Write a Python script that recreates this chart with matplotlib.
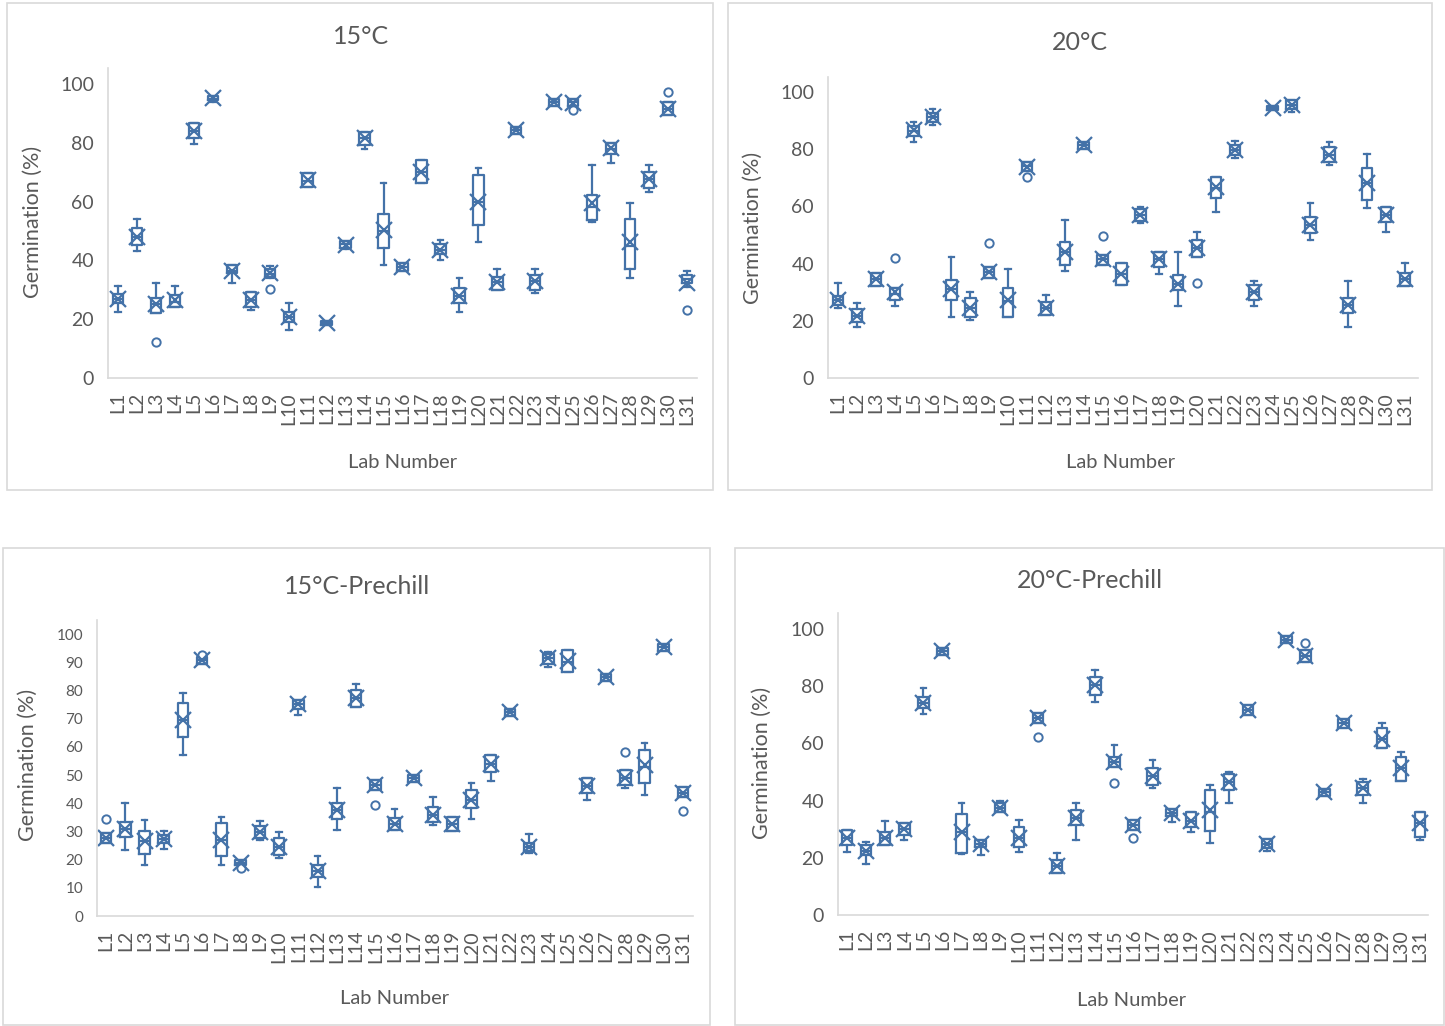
import matplotlib.pyplot as plt
from matplotlib.patches import Rectangle

plt.rcParams['font.family'] = ['Lato', 'DejaVu Sans']

W, H = 1445, 1026
BLUE = '#4472a8'
GREY = '#595959'

labs = ["L%d" % i for i in range(1, 32)]

# 15°C
t15_lo = [22.4, 43.2, 22.1, 24.1, 79.6, 94.0, 32.3, 23.1, 34.0, 16.3, 65.0, 18.0, 44.0, 78.0, 38.4, 36.5,
          66.3, 40.1, 22.4, 46.3, 29.9, 83.0, 29.0, 92.5, 92.5, 53.0, 73.0, 34.0, 63.3, 89.5, 31.0]
t15_q1 = [25.5, 45.2, 22.1, 24.1, 81.6, 94.5, 35.7, 24.1, 34.5, 19.0, 65.0, 18.0, 44.2, 79.3, 44.2, 36.5,
          66.3, 42.0, 25.5, 52.0, 29.9, 83.0, 30.0, 92.5, 92.5, 53.7, 76.0, 37.0, 64.6, 89.5, 32.3]
t15_med = [27.0, 48.0, 25.0, 26.0, 84.0, 95.0, 36.5, 26.5, 35.5, 20.7, 67.0, 18.7, 45.5, 81.5, 50.0, 37.8,
           70.0, 43.5, 28.0, 60.0, 32.5, 84.4, 33.0, 94.0, 94.0, 58.0, 78.0, 45.0, 67.5, 91.5, 33.5]
t15_q3 = [28.5, 51.0, 27.2, 28.2, 86.7, 96.0, 38.4, 29.2, 37.0, 22.4, 69.7, 19.5, 46.5, 83.7, 55.8, 39.0,
          74.1, 45.5, 30.6, 69.0, 34.4, 85.5, 35.0, 95.0, 95.0, 62.2, 80.0, 54.0, 70.0, 93.9, 35.0]
t15_hi = [31.3, 54.0, 32.3, 31.3, 86.7, 96.0, 38.4, 29.2, 38.0, 25.5, 69.7, 19.5, 46.5, 83.7, 66.3, 39.0,
          74.1, 47.0, 34.0, 71.4, 37.0, 85.5, 37.0, 95.0, 95.0, 72.4, 80.0, 59.5, 72.4, 93.9, 36.4]
t15_mean = [27.0, 48.0, 25.0, 26.5, 84.0, 95.2, 36.5, 26.5, 35.7, 20.7, 67.3, 18.7, 45.3, 81.5, 50.3, 37.8,
            70.0, 43.5, 28.0, 59.9, 32.5, 84.4, 33.0, 93.9, 93.5, 59.5, 78.2, 46.3, 67.5, 91.5, 32.3]
t15_out = {3: [12.2], 9: [30.3], 25: [91.2], 30: [97.3], 31: [23.1]}

# 20°C
t20_lo = [24.5, 17.8, 32.2, 25.2, 82.5, 88.5, 21.3, 20.3, 35.0, 21.3, 72.5, 22.0, 37.4, 80.0, 39.5, 32.5,
          54.2, 36.4, 25.2, 42.3, 58.0, 77.0, 25.2, 93.5, 93.0, 48.3, 74.5, 17.8, 59.4, 51.0, 32.2]
t20_q1 = [25.5, 19.6, 32.2, 27.3, 84.5, 89.5, 27.3, 21.3, 35.0, 21.3, 72.5, 22.0, 39.5, 80.0, 39.5, 32.5,
          55.0, 38.8, 30.8, 42.3, 63.0, 78.0, 27.3, 93.5, 94.0, 50.7, 75.5, 22.7, 62.2, 54.5, 32.2]
t20_med = [27.3, 21.8, 34.5, 29.5, 86.5, 91.3, 31.0, 24.5, 37.0, 27.0, 74.0, 24.5, 44.0, 81.5, 41.5, 36.5,
           57.0, 41.5, 33.0, 45.5, 66.5, 79.7, 30.0, 94.4, 95.5, 53.5, 78.0, 25.5, 68.0, 57.0, 34.5]
t20_q3 = [28.5, 24.1, 36.7, 31.5, 88.0, 92.5, 34.3, 28.0, 38.8, 31.5, 75.5, 26.6, 47.6, 82.5, 43.0, 40.2,
          59.0, 44.0, 36.0, 48.3, 70.3, 81.5, 32.5, 95.0, 97.0, 56.3, 80.8, 28.0, 73.4, 59.8, 36.7]
t20_hi = [33.2, 26.2, 36.7, 31.5, 89.5, 94.0, 42.3, 30.1, 38.8, 38.1, 75.5, 29.0, 55.2, 82.5, 43.0, 40.2,
          59.6, 44.0, 44.0, 51.0, 70.3, 83.0, 33.9, 95.0, 97.0, 61.2, 82.5, 34.0, 78.3, 59.8, 40.2]
t20_mean = [27.3, 21.8, 34.5, 30.0, 86.7, 91.3, 31.0, 24.5, 37.0, 27.3, 73.8, 24.5, 44.0, 81.5, 41.5, 36.5,
            57.0, 41.5, 33.0, 45.5, 66.8, 79.7, 30.0, 94.2, 95.5, 53.5, 78.0, 25.5, 68.2, 57.0, 34.5]
t20_out = {4: [42.0], 9: [47.2], 11: [70.3], 15: [49.7], 20: [33.2]}

# 15°C-Prechill
p15_lo = [25.9, 23.4, 18.1, 23.8, 57.0, 89.5, 18.1, 18.0, 27.0, 20.6, 71.3, 10.3, 30.5, 74.1, 44.7, 30.5,
          47.5, 32.3, 30.1, 34.4, 47.9, 71.0, 22.5, 88.3, 86.5, 41.1, 83.5, 45.5, 42.9, 94.0, 42.2]
p15_q1 = [25.9, 28.0, 22.0, 25.9, 63.5, 89.5, 21.3, 18.0, 27.7, 21.6, 73.5, 13.8, 34.4, 74.1, 44.7, 30.5,
          47.5, 33.3, 30.1, 38.3, 51.1, 71.0, 23.0, 89.5, 86.5, 43.6, 83.5, 46.5, 47.2, 94.0, 42.2]
p15_med = [27.5, 31.0, 26.5, 27.3, 69.5, 90.8, 27.0, 18.8, 29.8, 24.5, 75.2, 16.0, 37.5, 77.5, 46.5, 32.5,
           48.9, 36.0, 32.5, 41.0, 54.0, 72.3, 24.5, 91.5, 90.0, 46.0, 84.8, 49.0, 53.0, 95.4, 43.5]
p15_q3 = [29.4, 33.3, 30.1, 28.7, 75.5, 92.0, 33.0, 20.0, 31.9, 27.7, 76.5, 18.1, 40.0, 80.1, 48.2, 34.8,
          50.0, 38.7, 35.1, 44.7, 57.1, 73.5, 26.0, 93.0, 94.3, 48.9, 86.0, 51.8, 58.9, 96.5, 45.7]
p15_hi = [29.4, 40.0, 34.0, 30.1, 79.0, 92.0, 35.1, 20.0, 33.7, 29.7, 76.5, 21.3, 45.4, 82.3, 48.2, 38.0,
          50.0, 42.2, 35.1, 47.2, 57.1, 73.5, 29.1, 93.6, 94.3, 48.9, 86.0, 51.8, 61.3, 96.5, 45.7]
p15_mean = [27.5, 31.0, 26.5, 27.3, 69.5, 90.8, 27.0, 18.8, 29.8, 24.5, 75.2, 16.0, 37.5, 77.5, 46.5, 32.5,
            48.9, 36.0, 32.5, 41.0, 54.0, 72.3, 24.5, 91.5, 90.5, 46.0, 84.8, 49.0, 53.5, 95.4, 43.5]
p15_out = {1: [34.4], 6: [92.5], 8: [17.2], 15: [39.4], 28: [58.2], 31: [37.2]}

# 20°C-Prechill
p20_lo = [22.0, 17.8, 24.5, 26.2, 70.3, 91.0, 21.5, 21.0, 36.0, 22.0, 67.1, 14.7, 26.2, 74.5, 51.7, 29.7,
          44.4, 32.5, 29.0, 25.2, 39.2, 70.0, 22.5, 95.0, 88.5, 41.5, 65.5, 39.2, 58.4, 46.9, 26.2]
p20_q1 = [24.5, 21.0, 24.5, 28.0, 72.4, 91.0, 21.7, 23.8, 36.0, 23.8, 67.1, 14.7, 31.5, 76.9, 51.7, 29.7,
          45.5, 34.5, 30.8, 29.4, 43.7, 70.0, 23.5, 95.0, 88.5, 41.5, 65.5, 42.0, 58.4, 46.9, 27.3]
p20_med = [27.0, 22.5, 27.0, 30.0, 74.0, 92.3, 29.0, 25.0, 37.4, 27.0, 69.0, 17.0, 34.0, 80.5, 53.5, 31.5,
           48.5, 35.7, 33.0, 36.0, 46.5, 71.7, 24.8, 96.2, 90.5, 43.0, 67.1, 44.5, 61.5, 51.5, 32.0]
p20_q3 = [29.7, 24.5, 29.0, 32.2, 76.2, 93.5, 35.3, 26.2, 39.0, 30.8, 70.6, 19.2, 36.7, 83.2, 55.2, 33.2,
          51.4, 37.0, 36.0, 43.7, 49.3, 73.5, 26.5, 97.5, 92.7, 44.0, 68.5, 46.5, 65.4, 55.2, 36.0]
p20_hi = [29.7, 25.5, 32.9, 32.2, 79.4, 93.5, 39.2, 26.2, 40.0, 33.2, 70.6, 21.7, 39.2, 85.7, 59.4, 33.2,
          54.2, 37.0, 36.0, 45.5, 50.0, 73.5, 26.5, 97.5, 92.7, 44.0, 68.5, 47.5, 67.1, 57.0, 36.0]
p20_mean = [27.0, 22.5, 27.0, 30.0, 74.0, 92.3, 29.0, 25.0, 37.4, 27.0, 69.0, 17.0, 34.0, 80.5, 53.5, 31.5,
            48.5, 35.7, 33.0, 36.7, 46.5, 71.7, 24.8, 96.2, 90.5, 43.0, 67.1, 44.5, 61.5, 51.5, 32.0]
p20_out = {11: [62.2], 15: [46.2], 16: [26.9], 25: [95.1]}


def rect(l, t, r, b):
    return [l / W, 1 - b / H, (r - l) / W, (b - t) / H]


def draw_panel(fig, axbox, frame, xlim, ymax, ystep, ysize, title, title_xy, ylab_xy, xlab_xy,
               lo, q1, med, q3, hi, mean, out):
    fig.patches.append(Rectangle((frame[0] / W, 1 - frame[3] / H), (frame[2] - frame[0]) / W,
                                 (frame[3] - frame[1]) / H, transform=fig.transFigure,
                                 fill=False, edgecolor='#d9d9d9', linewidth=1.2))
    ax = fig.add_axes(rect(*axbox))
    stats = []
    for i in range(len(labs)):
        stats.append(dict(whislo=lo[i], q1=q1[i], med=med[i], q3=q3[i], whishi=hi[i],
                          mean=mean[i], fliers=out.get(i + 1, [])))
    ax.bxp(stats, positions=range(1, 32), widths=0.55, showmeans=True, capwidths=0.3,
           boxprops=dict(color=BLUE, linewidth=1.6),
           whiskerprops=dict(color=BLUE, linewidth=1.6),
           capprops=dict(color=BLUE, linewidth=1.6),
           medianprops=dict(color=BLUE, linewidth=1.6),
           meanprops=dict(marker='x', markeredgecolor=BLUE, markersize=12, markeredgewidth=1.6),
           flierprops=dict(marker='o', markerfacecolor='white', markeredgecolor=BLUE,
                           markersize=6, markeredgewidth=1.4))
    ax.set_xlim(*xlim)
    ax.set_ylim(0, ymax)
    ax.set_yticks(range(0, 101, ystep))
    ax.set_xticks(range(1, 32))
    ax.set_xticklabels(labs, rotation=90)
    ax.tick_params(axis='x', length=0, pad=10, labelsize=14, labelcolor=GREY)
    ax.tick_params(axis='y', length=0, pad=10, labelsize=ysize, labelcolor=GREY)
    for s in ['top', 'right']:
        ax.spines[s].set_visible(False)
    for s in ['left', 'bottom']:
        ax.spines[s].set_color('#d9d9d9')
        ax.spines[s].set_linewidth(1.2)
    fig.text(title_xy[0] / W, 1 - title_xy[1] / H, title, ha='center', va='center',
             fontsize=18, color=GREY)
    fig.text(ylab_xy[0] / W, 1 - ylab_xy[1] / H, 'Germination (%)', ha='center', va='center',
             rotation=90, fontsize=15.5, color=GREY)
    fig.text(xlab_xy[0] / W, 1 - xlab_xy[1] / H, 'Lab Number', ha='center', va='center',
             fontsize=14.5, color=GREY)
    return ax


fig = plt.figure(figsize=(W / 100, H / 100), dpi=100)

draw_panel(fig, (108, 68, 697, 378), (7, 3, 713, 490), (0.47, 31.53), 105.4, 20, 14,
           '15°C', (361, 37), (33, 222), (403, 463),
           t15_lo, t15_q1, t15_med, t15_q3, t15_hi, t15_mean, t15_out)
draw_panel(fig, (828, 77, 1418, 378), (728, 3, 1432, 490), (0.47, 31.69), 105.2, 20, 14,
           '20°C', (1080, 43), (753, 228), (1121, 463),
           t20_lo, t20_q1, t20_med, t20_q3, t20_hi, t20_mean, t20_out)
draw_panel(fig, (97, 620, 693, 916), (3, 548, 710, 1025), (0.53, 31.52), 105.0, 10, 11,
           '15°C-Prechill', (357, 587), (28, 765), (395, 999),
           p15_lo, p15_q1, p15_med, p15_q3, p15_hi, p15_mean, p15_out)
draw_panel(fig, (838, 613, 1428, 915), (735, 548, 1444, 1025), (0.53, 31.42), 105.6, 20, 14,
           '20°C-Prechill', (1090, 581), (762, 763), (1132, 1000),
           p20_lo, p20_q1, p20_med, p20_q3, p20_hi, p20_mean, p20_out)

fig.savefig('out.png', dpi=100, facecolor='white')
